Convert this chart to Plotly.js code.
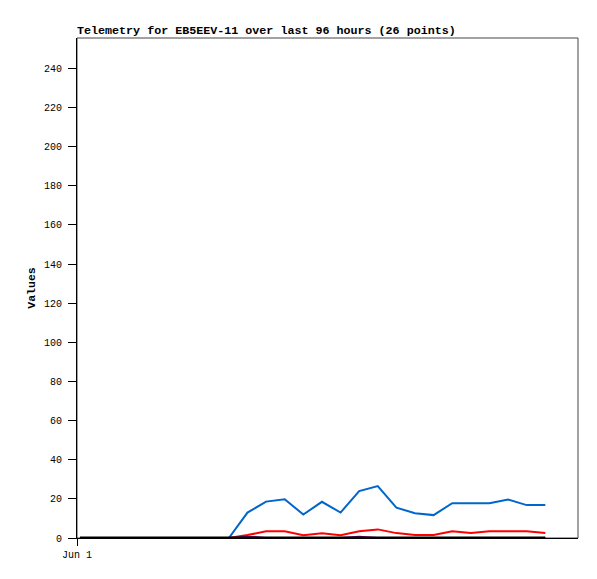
<!DOCTYPE html>
<html><head><meta charset="utf-8">
<script src="https://cdn.plot.ly/plotly-3.0.1.min.js"></script>
<style>html,body{margin:0;padding:0;background:#fff;}</style>
</head><body>
<div id="chart" style="width:597px;height:579px;"></div>
<script>
const times = [
 "2024-06-01 00:34","2024-06-01 04:08","2024-06-01 07:42","2024-06-01 11:16","2024-06-01 14:50",
 "2024-06-01 18:24","2024-06-01 21:58","2024-06-02 01:32","2024-06-02 05:06","2024-06-02 08:40",
 "2024-06-02 12:14","2024-06-02 15:48","2024-06-02 19:22","2024-06-02 22:56","2024-06-03 02:30",
 "2024-06-03 06:04","2024-06-03 09:38","2024-06-03 13:12","2024-06-03 16:46","2024-06-03 20:20",
 "2024-06-03 23:54","2024-06-04 03:28","2024-06-04 07:02","2024-06-04 10:36","2024-06-04 14:10",
 "2024-06-04 17:44"];
const blueVals   = [0,0,0,0,0,0,0,0,0,13,18.6,19.8,12,18.5,13,24,26.5,15.5,12.7,11.7,17.8,17.8,17.8,19.7,16.8,16.8];
const redVals    = [0,0,0,0,0,0,0,0,0,1.5,3.4,3.4,1.4,2.4,1.4,3.4,4.4,2.5,1.5,1.5,3.5,2.5,3.5,3.5,3.5,2.5];
const purpleVals = [0,0,0,0,0,0,0,0,0,0.7,0,0,0,0,0,0.7,0,0,0,0,0,0,0,0,0,0];
const blackVals  = [0,0,0,0,0,0,0,0,0,0,0,0,0,0,0,0,0,0,0,0,0,0,0,0,0,0];
const yTicks = [0,20,40,60,80,100,120,140,160,180,200,220,240];
const xTickVals = ["2024-06-01 00:00"];
const xTickText = ["Jun 1"];
const titleText = "Telemetry for EB5EEV-11 over last 96 hours (26 points)";

const mono = "Liberation Mono, DejaVu Sans Mono, monospace";
const traces = [
  {x: times, y: blueVals, mode: "lines", line: {color: "#0066cc", width: 2}},
  {x: times, y: redVals, mode: "lines", line: {color: "#ff0000", width: 2}},
  {x: times, y: purpleVals, mode: "lines", line: {color: "#800080", width: 2}},
  {x: times, y: blackVals, mode: "lines", line: {color: "#000000", width: 3}}
];
const layout = {
  width: 597, height: 579,
  margin: {l: 77, r: 19, t: 38, b: 41},
  paper_bgcolor: "#fff", plot_bgcolor: "#fff",
  showlegend: false,
  font: {family: mono, size: 10, color: "#000"},
  title: {text: titleText, x: 77/597, xanchor: "left", y: 1 - 34/579, yanchor: "bottom",
          font: {family: mono, size: 11.7, weight: "bold", color: "#000"}},
  xaxis: {type: "date", range: ["2024-06-01 00:00", "2024-06-05 00:00"],
          tickmode: "array", tickvals: xTickVals, ticktext: xTickText,
          ticks: "outside", ticklen: 7, tickcolor: "#000", showgrid: false, zeroline: false,
          showline: true, linecolor: "#000", linewidth: 1, tickfont: {family: mono, size: 10}},
  yaxis: {range: [0, 255.5], tickmode: "array", tickvals: yTicks,
          ticks: "outside", ticklen: 8, tickcolor: "#000", showgrid: false, zeroline: false,
          showline: true, linecolor: "#000", linewidth: 1, ticklabelstandoff: 4,
          tickfont: {family: mono, size: 10},
          title: {text: "Values", standoff: 5, font: {family: mono, size: 11.5, weight: "bold"}}},
  shapes: [{type: "rect", xref: "paper", yref: "paper", x0: 0, x1: 1, y0: 0, y1: 1,
            line: {color: "#444", width: 1}, layer: "below"}]
};
Plotly.newPlot("chart", traces, layout, {displayModeBar: false, staticPlot: true});
</script>
</body></html>
